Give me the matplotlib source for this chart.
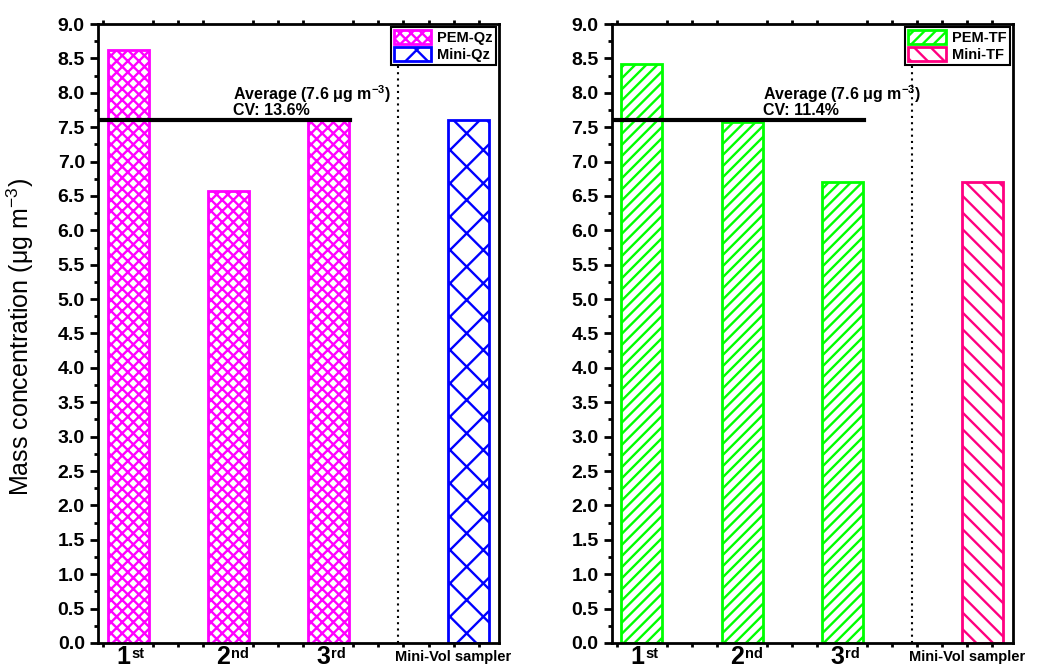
"""
Concentração mássica PM2.5: PEM vs Mini-Vol (quartzo e teflon)
"""
import matplotlib.pyplot as plt
from matplotlib.ticker import MultipleLocator, FormatStrFormatter
from matplotlib.patches import Patch

plt.rcParams['font.family'] = ['Liberation Sans', 'DejaVu Sans']
plt.rcParams['hatch.linewidth'] = 1.7

# Dados
pem_nums = ['1', '2', '3']
pem_sups = ['st', 'nd', 'rd']
qz_pem = [8.63, 6.57, 7.60]
qz_mini = 7.60
qz_avg = 7.6
qz_cv = 13.6
tf_pem = [8.42, 7.58, 6.70]
tf_mini = 6.70
tf_avg = 7.6
tf_cv = 11.4

panels = [
    dict(pem=qz_pem, mini=qz_mini, avg=qz_avg, cv=qz_cv,
         c_pem='#ff00ff', h_pem='xxx', c_mini='#0000ff', h_mini='x',
         lab_pem='PEM-Qz', lab_mini='Mini-Qz', tx=2.05),
    dict(pem=tf_pem, mini=tf_mini, avg=tf_avg, cv=tf_cv,
         c_pem='#00ff00', h_pem='///', c_mini='#ff0080', h_mini='\\\\',
         lab_pem='PEM-TF', lab_mini='Mini-TF', tx=2.21),
]

fig = plt.figure(figsize=(10.46, 6.69), dpi=100)
axes = [fig.add_axes([0.0937, 0.039, 0.383, 0.925]),
        fig.add_axes([0.585, 0.039, 0.383, 0.925])]

for ax, p in zip(axes, panels):
    x = [1, 2, 3]
    ax.bar(x, p['pem'], width=0.41, color='white', edgecolor=p['c_pem'],
           hatch=p['h_pem'], linewidth=2)
    ax.bar([4.4], [p['mini']], width=0.41, color='white', edgecolor=p['c_mini'],
           hatch=p['h_mini'], linewidth=2)

    # média e divisória
    ax.plot([0.7, 3.22], [p['avg'], p['avg']], color='black', linewidth=3, zorder=5)
    ax.axvline(3.7, color='black', linestyle=(0, (1, 2)), linewidth=1.5)
    ax.text(p['tx'], 7.90, 'Average (%.1f \u03bcg m$^{\\mathregular{-3}}$)' % p['avg'],
            fontsize=11.5, fontweight='bold')
    ax.text(p['tx'], 7.68, 'CV: %.1f%%' % p['cv'], fontsize=11.5, fontweight='bold')

    ax.set_xlim(0.7, 4.7)
    ax.set_ylim(0, 9)
    ax.set_xticks(x)
    ax.set_xticklabels([])
    # rótulos 1st/2nd/3rd: número + sobrescrito como textos separados
    trans = ax.get_xaxis_transform()
    for xi, num, sup in zip(x, pem_nums, pem_sups):
        ax.annotate(num, xy=(xi, 0), xycoords=trans, xytext=(2, -21),
                    textcoords='offset pixels', ha='right', va='baseline',
                    fontsize=18, fontweight='bold', annotation_clip=False)
        ax.annotate(sup, xy=(xi, 0), xycoords=trans, xytext=(3, -4),
                    textcoords='offset pixels', ha='left', va='top',
                    fontsize=10.5, fontweight='bold', annotation_clip=False)
    ax.text(4.25, -0.1, 'Mini-Vol sampler', ha='center', va='top',
            fontsize=10.5, fontweight='bold', clip_on=False)
    ax.xaxis.set_minor_locator(MultipleLocator(0.25))
    ax.yaxis.set_major_locator(MultipleLocator(0.5))
    ax.yaxis.set_minor_locator(MultipleLocator(0.25))
    ax.yaxis.set_major_formatter(FormatStrFormatter('%.1f'))
    for lab in ax.get_yticklabels():
        lab.set_fontweight('bold')
        lab.set_fontsize(14)
    ax.tick_params(axis='both', which='both', direction='out', top=True, right=True,
                   width=2)
    ax.tick_params(axis='y', which='major', length=6, labelsize=14)
    ax.tick_params(axis='y', which='minor', length=3)
    ax.tick_params(axis='x', which='major', length=0)
    ax.tick_params(axis='x', which='minor', length=3)
    ax.tick_params(axis='y', which='both', right=False)
    for s in ax.spines.values():
        s.set_linewidth(2)

    handles = [Patch(facecolor='white', edgecolor=p['c_pem'], hatch=p['h_pem'], linewidth=2),
               Patch(facecolor='white', edgecolor=p['c_mini'], hatch=p['h_mini'], linewidth=2)]
    leg = ax.legend(handles, [p['lab_pem'], p['lab_mini']], loc='upper right',
                    fancybox=False, edgecolor='black', framealpha=1,
                    prop={'weight': 'bold', 'size': 10.5}, handlelength=2.6,
                    handleheight=1.1, borderpad=0.2, labelspacing=0.15,
                    handletextpad=0.4, borderaxespad=0.2)
    leg.get_frame().set_linewidth(1.5)

axes[0].set_ylabel('Mass concentration (\u03bcg m$^{\\mathregular{-3}}$)', fontsize=18)
axes[0].yaxis.set_label_coords(-0.155, 0.495)

plt.savefig('out.png', dpi=100)
